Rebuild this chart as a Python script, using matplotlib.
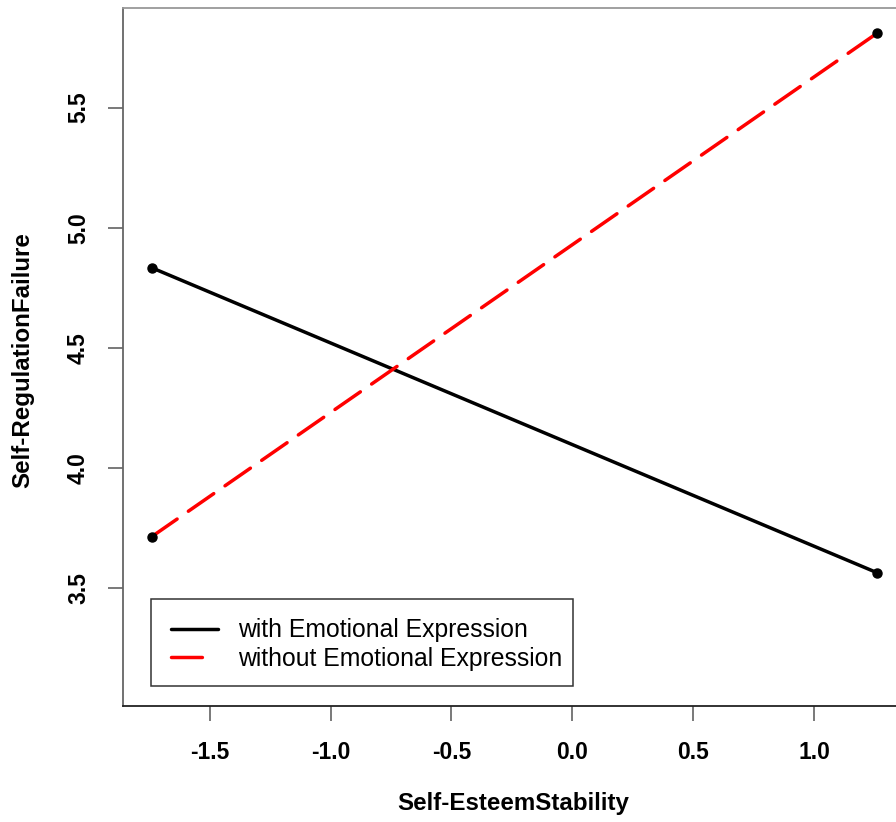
import matplotlib.pyplot as plt
from matplotlib.lines import Line2D
from matplotlib.patches import Rectangle

# data
ses = [-1.74, 1.26]
with_expr = [4.833, 3.5625]
without_expr = [3.7125, 5.81]
xticks = [-1.5, -1.0, -0.5, 0.0, 0.5, 1.0]
yticks = [3.5, 4.0, 4.5, 5.0, 5.5]
labels = ['with Emotional Expression', 'without Emotional Expression']

plt.rcParams['font.family'] = ['Liberation Sans', 'DejaVu Sans']

W, H = 896, 822
L, R, T, B = 122.7, 906, 8.3, 706
fig = plt.figure(figsize=(W / 100, H / 100), dpi=100)
ax = fig.add_axes([L / W, 1 - B / H, (R - L) / W, (B - T) / H])

def axpt(px, py):
    # pixel position -> axes fraction
    return (px - L) / (R - L), (B - py) / (B - T)

lw = 2.5
ax.plot(ses, with_expr, color='black', lw=lw, solid_capstyle='round')
ax.plot(ses, without_expr, color='#ff0000', lw=lw, dashes=(8.9, 3.95),
        dash_capstyle='round')
ax.plot(ses, with_expr, 'o', color='black', ms=6.5)
ax.plot(ses, without_expr, 'o', color='black', ms=6.5)

ax.set_xlim(-1.86, 1.38)
ax.set_ylim(3.007, 5.914)
ax.set_xticks(xticks)
ax.set_yticks(yticks)
ax.set_xticklabels([f'{t:.1f}' for t in xticks], fontsize=16.5, fontweight='bold')
ax.set_yticklabels([f'{t:.1f}' for t in yticks], fontsize=16.5, fontweight='bold',
                   rotation=90, va='center')
ax.tick_params(axis='x', length=10.5, width=1.1, color='#555', pad=14.5)
ax.tick_params(axis='y', length=10.5, width=1.1, color='#555', pad=13)

ax.spines['top'].set_color('#999')
ax.spines['left'].set_color('#666')
ax.spines['bottom'].set_color('#222')
ax.spines['right'].set_color('#222')
for s in ax.spines.values():
    s.set_linewidth(1.3)

fig.text(513 / W, 1 - 803 / H, 'Self-EsteemStability', fontsize=17.4,
         fontweight='bold', ha='center', va='center')
fig.text(23 / W, 1 - 360 / H, 'Self-RegulationFailure', fontsize=17.4,
         fontweight='bold', ha='center', va='center', rotation=90)

# legend: box drawn separately, entries via ax.legend
bx0, by0 = axpt(151, 686)
bx1, by1 = axpt(572.7, 599)
ax.add_patch(Rectangle((bx0, by0), bx1 - bx0, by1 - by0, transform=ax.transAxes,
                       facecolor='white', edgecolor='#333', lw=1.1, zorder=4))
handles = [Line2D([], [], color='black', lw=lw, solid_capstyle='round'),
           Line2D([], [], color='#ff0000', lw=lw, dashes=(8.9, 6),
                  dash_capstyle='round')]
leg = ax.legend(handles, labels, loc='upper left', bbox_to_anchor=axpt(171, 618.5),
                borderaxespad=0, borderpad=0, frameon=False, fontsize=17.8,
                handlelength=1.9, handletextpad=0.8, labelspacing=0.18)
leg.set_zorder(5)

fig.savefig('out.png', dpi=100)
